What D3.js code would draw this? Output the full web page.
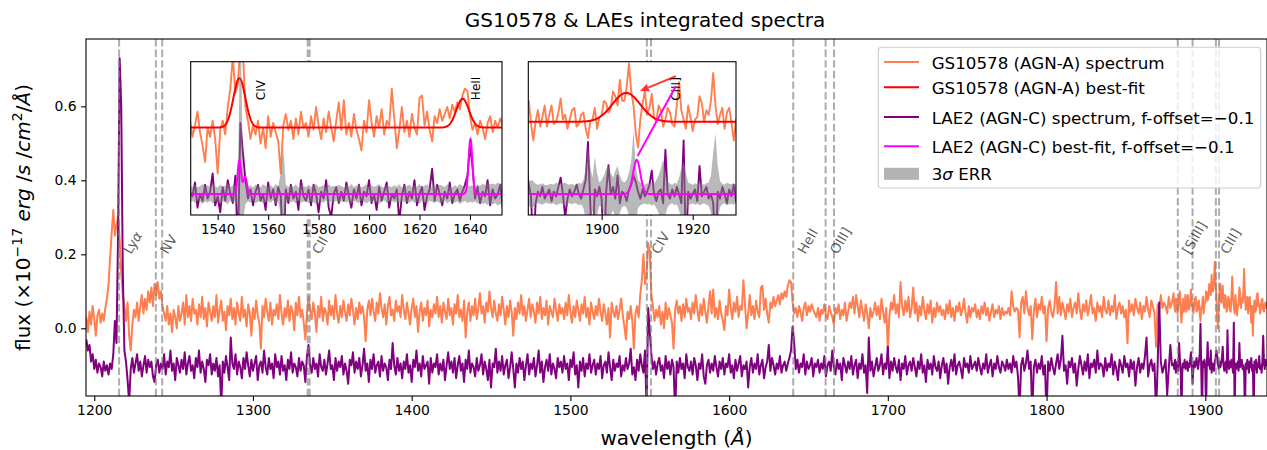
<!DOCTYPE html>
<html><head><meta charset="utf-8">
<script src="https://cdn.jsdelivr.net/npm/d3@7"></script>
<style>
body{margin:0;background:#fff;}
text{font-family:"DejaVu Sans",sans-serif;}
</style>
</head><body>
<svg id="c" width="1267" height="450" xmlns="http://www.w3.org/2000/svg"></svg>
<script>
// ---------------- DATA ----------------
// flux in units of 1e-3 (x10^-17 erg/s/cm2/Å)
// 1 Å bins from 1195 to 1879 Å
const waveStart = 1195;
const agnA = [
30,-10,45,10,60,25,-20,35,50,15,40,20,55,80,120,190,260,320,250,280,
300,240,150,90,60,20,70,-20,-60,10,50,30,70,20,60,90,40,80,50,100,
70,110,60,120,90,125,80,100,60,40,20,60,10,40,-10,50,30,0,60,20,
40,70,10,90,30,60,20,80,40,50,10,65,30,85,25,55,5,70,45,20,
60,30,90,15,50,75,20,45,-5,60,35,80,25,55,10,70,40,20,85,30,
50,5,65,40,-20,55,25,75,35,15,-55,60,30,80,45,20,70,10,50,35,
65,25,90,40,10,55,30,75,20,60,45,-5,70,35,85,30,50,15,-30,40,
85,50,25,70,40,-10,60,30,85,20,55,45,10,75,35,60,25,90,40,15,
60,30,75,45,20,65,35,80,50,10,55,25,70,40,60,30,-35,50,75,35,
80,45,20,70,40,95,55,30,65,10,60,85,35,50,20,75,45,60,30,90,
50,25,70,40,10,55,80,30,60,-10,45,70,20,55,35,75,5,50,30,65,
40,85,30,60,15,70,45,25,80,35,55,10,65,40,90,30,50,20,75,-25,
45,70,20,60,35,80,25,55,95,40,60,15,70,45,100,55,30,75,40,20,
65,35,85,50,10,60,30,75,45,-20,55,25,70,40,90,35,60,20,50,80,
30,65,45,15,70,40,85,25,55,35,75,10,60,45,30,80,50,20,65,40,
55,25,70,35,90,45,15,60,30,75,50,20,65,40,85,30,55,10,70,45,
25,60,35,80,45,20,65,40,10,55,-25,70,45,30,60,25,50,80,35,5,
-30,45,25,60,20,-55,40,60,30,90,130,200,120,140,230,210,90,60,20,50,
30,60,10,45,0,70,25,55,35,15,-55,50,75,40,60,20,65,30,80,45,
55,25,70,40,90,50,20,65,35,80,45,15,60,100,40,105,30,55,25,75,
40,20,-5,60,35,105,55,25,70,45,85,30,60,50,130,65,0,40,90,35,
60,25,75,45,30,110,115,50,80,40,15,70,55,85,60,75,90,65,95,80,
100,85,115,130,125,70,40,55,30,60,45,20,55,70,35,60,45,65,50,40,
30,55,20,50,40,65,35,25,60,45,30,10,55,40,65,25,50,35,70,20,
45,70,55,85,40,90,60,30,75,50,20,65,40,0,55,30,45,70,35,60,
25,80,45,15,55,-60,35,70,50,90,40,65,30,125,60,35,75,45,85,30,
55,110,40,70,20,60,35,85,50,25,65,40,75,15,55,30,70,45,60,35,
50,25,65,40,75,30,55,20,60,45,70,35,50,80,40,15,60,30,55,45,
65,30,50,25,60,40,70,35,55,20,45,65,30,50,40,60,25,55,35,45,
40,55,35,100,60,45,55,50,-25,70,85,40,100,55,35,60,-30,45,80,30,
65,50,85,40,60,-35,55,75,45,30,60,125,40,85,35,70,50,25,65,45,
80,30,55,70,40,95,50,25,65,45,75,35,60,90,40,55,20,70,45,60,
30,85,50,40,75,35,60,45,90,25,55,70,40,60,30,50,-40,75,45,65,
35,80,55,40,70,25,60,45,85,50,30,75,60,40,-50,65,45,90,55,70,
60,40,85,55,70
];
// LAE2 spectrum with the f-offset of -0.1 already applied (same units)
const lae2 = [
-30,-60,-45,-90,-70,-110,-85,-120,-95,-105,-130,-90,-115,-100,-125,-95,-110,-70,20,-40,
250,730,600,150,-60,-90,-140,-200,-110,-80,-120,-95,-70,-115,-90,-130,-100,-75,-120,-85,
-105,-90,-130,-145,-100,-85,-120,-95,-110,-70,-125,-90,-105,-60,-115,-95,-140,-80,-100,-120,
-85,-110,-65,-125,-95,-75,-115,-100,-135,-80,-105,-60,-120,-90,-110,-145,-85,-100,-70,-125,
-95,-115,-80,-130,-100,-210,-90,-120,-75,-105,-140,-25,-95,-110,-70,-125,-90,-105,-135,-80,
-110,-65,-100,-130,-85,-115,-95,-75,-140,-100,-90,-120,-60,-105,-125,-80,-110,-95,-135,-70,
-105,-90,-125,-75,-115,-100,-140,-85,-110,-65,-120,-95,-105,-130,-80,-115,-90,-100,-145,-75,
-45,-100,-120,-80,-110,-95,-130,-70,-105,-115,-85,-125,-95,-60,-110,-100,-140,-80,-115,-90,
-105,-75,-125,-95,-115,-150,-85,-100,-65,-120,-90,-110,-80,-130,-100,-55,-115,-95,-145,-85,
-110,-70,-120,-100,-90,-130,-75,-115,-95,-105,-140,-85,-110,-40,-100,-125,-80,-115,-95,-135,
-90,-110,-70,-120,-100,-145,-85,-105,-60,-115,-95,-130,-75,-110,-100,-90,-150,-80,-120,-95,
-105,-70,-125,-95,-115,-85,-140,-100,-65,-110,-90,-120,-80,-135,-100,-75,-115,-95,-145,-85,
-110,-60,-120,-95,-105,-130,-80,-115,-100,-70,-125,-90,-110,-140,-85,-160,-95,-105,-55,-120,
-90,-115,-75,-125,-100,-85,-135,-105,-65,-110,-160,-95,-120,-80,-110,-90,-140,-100,-70,-125,
-95,-110,-80,-130,-100,-60,-120,-90,-145,-105,-85,-115,-70,-125,-95,-110,-135,-80,-105,-90,
-120,-75,-110,-95,-140,-85,-105,-65,-125,-100,-160,-90,-115,-80,-130,-95,-110,-70,-120,-100,
-85,-125,-95,-110,-75,-135,-100,-90,-120,-65,-105,-140,-85,-115,-95,-105,-75,-130,-100,-115,
-80,-110,-95,-55,-125,-105,-140,-85,-115,-70,-100,-120,-60,-220,55,-10,-70,-110,-90,-125,
-95,-80,-115,-100,-135,-75,-110,-90,-125,-85,-105,-230,-90,-120,-80,-110,-95,-135,-70,-105,
-115,-90,-125,-80,-100,-140,-95,-110,-70,-130,-150,-100,-85,-120,-95,-115,-75,-105,-130,-90,
-110,-80,-125,-95,-105,-70,-120,-100,-135,-85,-115,-95,-75,-130,-100,-110,-90,-160,-105,-80,
-120,-95,-110,-70,-125,-100,-85,-135,-105,-90,-45,-115,-80,-100,-125,-95,-110,-75,-120,-100,
-90,-115,-95,-80,-60,5,-40,-110,-85,-120,-95,-105,-70,-125,-90,-110,-100,-80,-130,-95,
-105,-85,-120,-95,-110,-75,-130,-100,-90,-115,-60,-105,-125,-85,-110,-95,-140,-80,-100,-120,
-90,-110,-75,-125,-100,-85,-135,-95,-110,-70,-120,-100,-175,-25,-115,-90,-130,-105,-80,-115,
-100,-70,-125,-95,-110,-50,-135,-90,-115,-80,-105,-120,-85,-140,-95,-110,-75,-125,-100,-90,
-115,-80,-105,-130,-90,-110,-70,-120,-100,-145,-85,-110,-95,-125,-75,-105,-115,-90,-135,-100,
-80,-120,-95,-150,-105,-85,-115,-70,-125,-100,-90,-110,-135,-80,-105,-95,-120,-75,-110,-100,
-90,-115,-80,-105,-125,-95,-110,-70,-120,-100,-85,-130,-95,-110,-75,-105,-120,-90,-100,-115,
-85,-110,-95,-120,-75,-105,-90,-130,-220,-100,-80,-115,-95,-60,-110,-90,-230,-105,-85,-120,
-95,-110,-75,-125,-100,-240,-90,-115,-80,-105,-125,-95,-70,-110,-85,-20,-115,-100,-150,-90,
-105,-80,-120,-95,-155,-110,-75,-100,-125,-90,-115,-70,-135,-95,-105,-85,-120,-60,-110,-95,
-100,-130,-80,-115,-95,-105,-70,-125,-90,-110,-140,-85,-100,-120,-75,-105,-95,-130,-85,-110,
-90,-155,-105,-80,-120,-95,-110,-75,-25,-130,-100,-85,-115,-95,-230,-100,70,-90,-120,-105,
-85,-180,-110,-45,-100
];
// 0.5 Å bins from 1880 to 1939 Å (CIII] region)
const hrStart = 1880, hrStep = 0.5;
const agnAHr = [
95,60,45,80,75,40,60,85,100,50,
15,55,80,45,65,90,45,70,90,50,
55,75,105,60,70,40,60,80,85,45,
50,70,75,40,20,55,60,85,40,65,
70,100,95,75,85,120,110,90,145,100,
100,130,180,120,90,30,0,60,95,120,
70,85,115,65,55,90,80,45,60,85,
75,50,45,90,140,80,60,40,90,65,
35,60,65,110,95,55,80,70,100,160,
90,50,70,85,40,75,85,55,15,60,
-20,50,75,45,50,90,95,60,65,40,
55,75,80,50,45,65,70,55,60
];
const lae2Hr = [
-95,-110,-85,-120,-100,-90,-115,-40,-80,-105,
-230,-120,-95,-105,-85,-110,-100,-90,-115,-95,
-105,-85,-65,-100,-150,-110,-90,-105,-95,-80,
-100,-110,-90,-70,12,-120,-230,-90,-105,-85,
-110,-230,-95,-38,-100,-85,-110,-60,-120,-95,
-100,-115,-90,-80,-60,-75,-95,-110,-90,-105,
-95,-80,-50,-100,-115,-95,-90,-120,-5,-100,
-110,-90,-105,-85,-100,-120,15,-230,-95,-110,
-100,-90,-115,-40,-105,-95,-85,-110,-100,-120,
-230,-95,-110,-85,-100,-120,-90,-105,-80,-115,
-100,-230,-90,-110,-85,-120,-95,-105,-75,-110,
-100,-120,-90,-20,-95,-110,-85,-100,-95
];
const laeOffset = -0.1;
// 3-sigma error of LAE2 (same units) in the two inset windows
const err1Start = 1529, err1Step = 1;
const err1 = [
18,15,20,14,17,22,16,19,15,21,17,14,20,16,18,23,15,19,17,25,
400,60,22,16,19,14,20,17,15,21,18,16,19,14,22,17,45,100,20,15,
18,16,21,14,19,17,15,20,16,18,22,15,17,19,14,21,16,18,15,20,
17,14,19,16,22,15,18,20,14,17,21,16,19,15,18,22,16,14,20,17,
15,19,16,21,14,18,17,20,15,19,16,22,14,18,21,15,17,19,16,20,
18,15,21,17,14,19,16,22,18,15,20,17,19,16,21,18,22,20,24,21,
23,20,25,22,24
];
const err2Start = 1883, err2Step = 0.5;
const err2 = [
22,24,26,30,28,22,20,21,23,20,
19,21,22,20,24,22,20,23,25,21,
20,22,19,21,24,22,30,55,100,60,
35,80,45,25,30,40,55,60,45,35,
50,60,40,28,25,30,45,70,137,60,
30,24,22,20,23,21,25,22,30,40,
55,75,45,28,22,20,24,22,35,55,
70,45,25,22,20,23,21,24,22,20,
23,25,40,90,130,60,28,22,20,24,
22,21,23,20,22
];
// best-fit Gaussian components
const fitAcont = [0.045, 0.055];           // continuum in the CIV/HeII and CIII] windows
const fitAcenter = [1548.6, 1637.1, 1905.4];
const fitAamp = [0.108, 0.063, 0.062];
const fitAsigma = [2.35, 2.5, 3.06];
const fitCcenter = [1548.6, 1550.9, 1640.2, 1907.7];
const fitCamp = [0.074, 0.037, 0.12, 0.073];
const fitCsigma = [0.7, 0.7, 0.75, 0.8];
// emission lines
const lineNames = ["Lyα","NV","CII","CIV","HeII","OIII]","[SiIII]","CIII]"];
const lineWaves = [[1215.67],[1238.8,1242.8],[1334.5,1335.7],[1548.2,1550.8],[1640.4],[1660.8,1666.1],[1882.7,1892.0],[1906.7,1908.7]];
const xTicks = [1200,1300,1400,1500,1600,1700,1800,1900];
const yTicks = [0.0,0.2,0.4,0.6];
const inset1Ticks = [1540,1560,1580,1600,1620,1640];
const inset2Ticks = [1900,1920];
const legendLabels = ["GS10578 (AGN-A) spectrum","GS10578 (AGN-A) best-fit","LAE2 (AGN-C) spectrum, f-offset=\u22120.1","LAE2 (AGN-C) best-fit, f-offset=\u22120.1","3σ ERR"];

// ---------------- DRAW ----------------
const C_OR = "#ff7f50", C_RED = "#ff0000", C_PUR = "#800080", C_MAG = "#ff00ff";
const svg = d3.select("#c");
const M = {l:86, r:1267, t:39, b:396};
const x = d3.scaleLinear([1194.8, 1938.9], [M.l, M.r]);
const y = d3.scaleLinear([-0.183, 0.782], [M.b, M.t]);
const specA = agnA.map((v,i)=>({w: waveStart+i, f: v/1000}))
  .concat(agnAHr.map((v,i)=>({w: hrStart+hrStep*i, f: v/1000})));
const specC = lae2.map((v,i)=>({w: waveStart+i, f: v/1000}))
  .concat(lae2Hr.map((v,i)=>({w: hrStart+hrStep*i, f: v/1000})));

const defs = svg.append("defs");
defs.append("clipPath").attr("id","clipMain").append("rect")
  .attr("x",M.l).attr("y",M.t).attr("width",M.r-M.l).attr("height",M.b-M.t);

// title
svg.append("text").attr("x",645).attr("y",27).attr("text-anchor","middle")
  .attr("font-size",20).text("GS10578 & LAEs integrated spectra");

const gMain = svg.append("g").attr("clip-path","url(#clipMain)");
const lineMain = d3.line().x(d=>x(d.w)).y(d=>y(d.f));
gMain.append("path").datum(specA).attr("d",lineMain).attr("fill","none")
  .attr("stroke",C_OR).attr("stroke-width",2).attr("stroke-linejoin","round");
gMain.append("path").datum(specC).attr("d",lineMain).attr("fill","none")
  .attr("stroke",C_PUR).attr("stroke-width",2).attr("stroke-linejoin","round");

// dashed lines + labels
lineWaves.forEach((ws,k)=>{
  ws.forEach(w=>{
    gMain.append("line").attr("x1",x(w)).attr("x2",x(w)).attr("y1",M.t).attr("y2",M.b)
      .attr("stroke","#808080").attr("stroke-opacity",0.65).attr("stroke-width",2)
      .attr("stroke-dasharray","7.4,3.2");
  });
  const lx = x(ws[0]) + 12, ly = 255;
  const t = svg.append("text").attr("transform",`translate(${lx},${ly}) rotate(-60)`)
    .attr("font-size",13.5).attr("fill","#000").attr("fill-opacity",0.65);
  if (lineNames[k]==="Lyα"){ t.append("tspan").text("Ly"); t.append("tspan").attr("font-style","italic").text("α"); }
  else t.text(lineNames[k]);
});

// frame
svg.append("rect").attr("x",M.l).attr("y",M.t).attr("width",M.r-M.l).attr("height",M.b-M.t)
  .attr("fill","none").attr("stroke","#000").attr("stroke-width",1.1);

// axes
const xAx = svg.append("g").attr("transform",`translate(0,${M.b})`)
  .call(d3.axisBottom(x).tickValues(xTicks).tickFormat(d3.format("d")).tickSize(4.9).tickSizeOuter(0).tickPadding(4.5));
const yAx = svg.append("g").attr("transform",`translate(${M.l},0)`)
  .call(d3.axisLeft(y).tickValues(yTicks).tickFormat(d3.format(".1f")).tickSize(4.9).tickSizeOuter(0).tickPadding(4.5));
[xAx,yAx].forEach(a=>{
  a.select(".domain").remove();
  a.selectAll("text").attr("font-size",13.9).attr("font-family","DejaVu Sans").attr("fill","#000");
  a.selectAll("line").attr("stroke","#000").attr("stroke-width",1.1);
});

// axis labels
const xl = svg.append("text").attr("x",(M.l+M.r)/2).attr("y",445).attr("text-anchor","middle").attr("font-size",20);
xl.append("tspan").text("wavelength (");
xl.append("tspan").attr("font-style","italic").text("Å");
xl.append("tspan").text(")");
const yl = svg.append("text").attr("transform",`translate(29.5,${(M.t+M.b)/2}) rotate(-90)`)
  .attr("text-anchor","middle").attr("font-size",20);
yl.append("tspan").text("flux (×10");
yl.append("tspan").attr("font-size",14).attr("dy",-8).text("−17");
yl.append("tspan").attr("dy",8).text(" ");
yl.append("tspan").attr("font-style","italic").text("erg");
yl.append("tspan").text(" /");
yl.append("tspan").attr("font-style","italic").text("s");
yl.append("tspan").text(" /");
yl.append("tspan").attr("font-style","italic").text("cm");
yl.append("tspan").attr("font-size",14).attr("dy",-8).text("2");
yl.append("tspan").attr("dy",8).text("/");
yl.append("tspan").attr("font-style","italic").text("Å");
yl.append("tspan").text(")");

// model helper (Gaussian components on a continuum)
function model(w, cont, cen, amp, sig){
  let v = cont;
  cen.forEach((c,i)=>{ v += amp[i]*Math.exp(-0.5*((w-c)/sig[i])**2); });
  return v;
}

function drawInset(cfg){
  const xs = d3.scaleLinear(cfg.xd,[cfg.x0,cfg.x1]);
  const ys = d3.scaleLinear(cfg.yd,[cfg.y1,cfg.y0]);
  const g = svg.append("g");
  g.append("rect").attr("x",cfg.x0).attr("y",cfg.y0).attr("width",cfg.x1-cfg.x0).attr("height",cfg.y1-cfg.y0).attr("fill","#fff");
  defs.append("clipPath").attr("id",cfg.id).append("rect")
    .attr("x",cfg.x0).attr("y",cfg.y0).attr("width",cfg.x1-cfg.x0).attr("height",cfg.y1-cfg.y0);
  const gc = g.append("g").attr("clip-path",`url(#${cfg.id})`);
  const ln = d3.line().x(d=>xs(d.w)).y(d=>ys(d.f));
  const inR = d=> d.w>=cfg.xd[0]-2 && d.w<=cfg.xd[1]+2;
  gc.append("path").datum(specA.filter(inR)).attr("d",ln).attr("fill","none")
    .attr("stroke",C_OR).attr("stroke-width",1.9).attr("stroke-linejoin","round");
  const grid = d3.range(cfg.xd[0]-1, cfg.xd[1]+1, 0.1);
  gc.append("path").datum(grid.map(w=>({w, f: model(w, cfg.contA, fitAcenter, fitAamp, fitAsigma)})))
    .attr("d",ln).attr("fill","none").attr("stroke",C_RED).attr("stroke-width",2);
  gc.append("path").datum(specC.filter(inR)).attr("d",ln).attr("fill","none")
    .attr("stroke",C_PUR).attr("stroke-width",1.9).attr("stroke-linejoin","round");
  const errD = cfg.err.map((e,i)=>({w: cfg.errStart+cfg.errStep*i, e: e/1000}));
  gc.append("path").datum(errD).attr("d", d3.area().x(d=>xs(d.w)).y0(d=>ys(laeOffset-d.e)).y1(d=>ys(laeOffset+d.e)))
    .attr("fill","#808080").attr("fill-opacity",0.55);
  gc.append("path").datum(grid.map(w=>({w, f: model(w, laeOffset, fitCcenter, fitCamp, fitCsigma)})))
    .attr("d",ln).attr("fill","none").attr("stroke",C_MAG).attr("stroke-width",2);
  g.append("rect").attr("x",cfg.x0).attr("y",cfg.y0).attr("width",cfg.x1-cfg.x0).attr("height",cfg.y1-cfg.y0)
    .attr("fill","none").attr("stroke","#000").attr("stroke-width",1.1);
  const ax = g.append("g").attr("transform",`translate(0,${cfg.y1})`)
    .call(d3.axisBottom(xs).tickValues(cfg.ticks).tickFormat(d3.format("d")).tickSize(4.9).tickSizeOuter(0).tickPadding(4.5));
  ax.select(".domain").remove();
  ax.selectAll("text").attr("font-size",13.5).attr("font-family","DejaVu Sans").attr("fill","#000");
  ax.selectAll("line").attr("stroke","#000").attr("stroke-width",1.1);
  cfg.labels.forEach(L=>{
    g.append("text").attr("transform",`translate(${xs(L.w)},${ys(L.f)}) rotate(-90)`)
      .attr("font-size",12).attr("fill","#000").text(L.t);
  });
  return {xs, ys, g};
}

drawInset({id:"clipIn1", x0:190.7, x1:502, y0:61.7, y1:215, xd:[1529.3,1652.7], yd:[-0.146,0.189],
  contA: fitAcont[0], err: err1, errStart: err1Start, errStep: err1Step, ticks: inset1Ticks,
  labels:[{t:"CIV", w:1558.7, f:0.105},{t:"HeII", w:1644.0, f:0.105}]});
const in2 = drawInset({id:"clipIn2", x0:528.3, x1:736, y0:61.7, y1:215, xd:[1883.9,1929.5], yd:[-0.145,0.184],
  contA: fitAcont[1], err: err2, errStart: err2Start, errStep: err2Step, ticks: inset2Ticks,
  labels:[{t:"CIII]", w:1917.3, f:0.10}]});

// annotation arrows in inset 2 (point from label to the two fits)
{
  const {xs, ys, g} = in2;
  const p0 = [xs(1916.3), ys(0.153)], p1 = [xs(1908.4), ys(0.121)];
  const ang = Math.atan2(p1[1]-p0[1], p1[0]-p0[0]);
  const hl = 9, hw = 4;
  const bx = p1[0]-hl*Math.cos(ang), by = p1[1]-hl*Math.sin(ang);
  g.append("line").attr("x1",p0[0]).attr("y1",p0[1]).attr("x2",bx).attr("y2",by)
    .attr("stroke",C_RED).attr("stroke-width",2).attr("stroke-opacity",0.8);
  g.append("path").attr("d",`M${p1[0]},${p1[1]}L${bx-hw*Math.sin(ang)},${by+hw*Math.cos(ang)}L${bx+hw*Math.sin(ang)},${by-hw*Math.cos(ang)}Z`)
    .attr("fill",C_RED).attr("fill-opacity",0.8);
  g.append("line").attr("x1",xs(1916.3)).attr("y1",ys(0.132)).attr("x2",xs(1907.9)).attr("y2",ys(-0.0185))
    .attr("stroke",C_MAG).attr("stroke-width",2);
}

// legend
const lg = svg.append("g");
lg.append("rect").attr("x",878.3).attr("y",47.3).attr("width",382.4).attr("height",140.7).attr("rx",3.5)
  .attr("fill","#fff").attr("fill-opacity",0.8).attr("stroke","#cccccc").attr("stroke-width",1.1);
const legY = [62.6, 87.8, 117.6, 146.8, 173.8];
const legC = [C_OR, C_RED, C_PUR, C_MAG, null];
legendLabels.forEach((lab,i)=>{
  if (legC[i]) lg.append("line").attr("x1",884).attr("x2",919).attr("y1",legY[i]-0.5).attr("y2",legY[i]-0.5)
      .attr("stroke",legC[i]).attr("stroke-width",2);
  else lg.append("rect").attr("x",884).attr("y",legY[i]-6).attr("width",35).attr("height",12)
      .attr("fill","#808080").attr("fill-opacity",0.6);
  const t = lg.append("text").attr("x",931.7).attr("y",legY[i]).attr("dy","0.36em").attr("font-size",16.7);
  if (lab==="3σ ERR"){ t.append("tspan").text("3"); t.append("tspan").attr("font-style","italic").text("σ"); t.append("tspan").text(" ERR"); }
  else t.text(lab);
});
</script>
</body></html>
